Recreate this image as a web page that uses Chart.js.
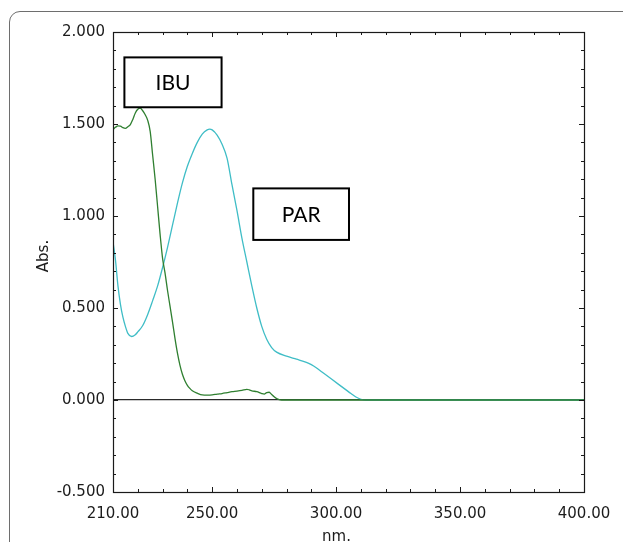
<!DOCTYPE html>
<html>
<head>
<meta charset="utf-8">
<script src="https://cdn.jsdelivr.net/npm/chart.js@4.4.1/dist/chart.umd.min.js"></script>
<style>
  html, body { margin: 0; padding: 0; background: #fff; overflow: hidden; width: 623px; height: 542px; }
  #wrap { position: relative; width: 623px; height: 542px; }
  #frame { position: absolute; left: 9px; top: 11px; width: 720px; height: 720px;
           border: 1.5px solid #6e6e6e; border-radius: 11px; box-sizing: border-box; }
  canvas { position: absolute; left: 0; top: 0; }
</style>
</head>
<body>
<div id="wrap">
  <div id="frame"></div>
  <canvas id="c" width="623" height="542"></canvas>
</div>
<script>
// Ibuprofen (IBU) absorption spectrum
const ibuNm = [210, 211, 212, 213, 214, 215, 216, 217, 218, 219, 220, 221, 222, 223, 224, 225,
               226, 227, 228, 229, 230, 231, 232, 233, 234, 235, 236, 237, 238, 239, 240, 241,
               242, 244, 246, 248, 250, 252, 254, 256, 258, 260, 262, 264, 265, 266, 268, 270,
               271, 272, 273, 274, 275, 276, 277, 278, 300, 350, 400];
const ibuAbs = [1.470, 1.482, 1.490, 1.489, 1.480, 1.476, 1.485, 1.497, 1.525, 1.560, 1.580, 1.586, 1.572, 1.550, 1.520, 1.460,
                1.330, 1.200, 1.050, 0.900, 0.770, 0.690, 0.595, 0.510, 0.425, 0.335, 0.255, 0.190, 0.140, 0.105, 0.080, 0.063,
                0.050, 0.037, 0.028, 0.027, 0.028, 0.032, 0.035, 0.040, 0.045, 0.048, 0.052, 0.058, 0.055, 0.050, 0.045, 0.035,
                0.032, 0.040, 0.042, 0.030, 0.018, 0.008, 0.002, 0.000, 0.000, 0.000, 0.000];

// Paracetamol (PAR) absorption spectrum
const parNm = [210, 211, 212, 213, 214, 215, 216, 217.5, 219, 220, 222, 224, 226, 228, 230, 232,
               234, 236, 238, 240, 242, 244, 246, 248, 249, 250, 252, 254, 256, 258, 260, 262,
               264, 266, 268, 270, 272, 274, 276, 280, 284, 288, 290, 292, 295, 298, 301, 304,
               306, 308, 310, 312, 350, 400];
const parAbs = [0.860, 0.760, 0.620, 0.520, 0.450, 0.400, 0.362, 0.345, 0.355, 0.370, 0.405, 0.465, 0.540, 0.620, 0.720, 0.830,
                0.950, 1.070, 1.180, 1.270, 1.340, 1.400, 1.445, 1.468, 1.472, 1.468, 1.440, 1.390, 1.315, 1.170, 1.030, 0.880,
                0.750, 0.620, 0.500, 0.400, 0.330, 0.285, 0.260, 0.238, 0.222, 0.205, 0.192, 0.175, 0.145, 0.115, 0.085, 0.055,
                0.035, 0.016, 0.004, 0.000, 0.000, 0.000];

// Labelled wavelengths and absorbances on the axes
const xLabels = [210, 250, 300, 350, 400];
const yLabels = [-0.5, 0, 0.5, 1, 1.5, 2];

// Boxed series names (extent given in axis units)
const notes = [
  { text: 'IBU', x0: 214.6, x1: 253.8, y0: 1.862, y1: 1.591 },
  { text: 'PAR', x0: 266.6, x1: 305.2, y0: 1.150, y1: 0.870 }
];

const tickFont = { family: 'DejaVu Sans', size: 15 };
const inkColor = '#1c1c1c';

const toPoints = (xs, ys) => xs.map((x, i) => ({ x, y: ys[i] }));

// Frame, inward tick marks, name boxes and axis titles
const decorations = {
  id: 'decorations',
  afterDatasetsDraw(chart) {
    const { ctx, chartArea: a, scales } = chart;
    const xs = scales.x, ys = scales.y;
    ctx.save();
    ctx.strokeStyle = '#1a1a1a';
    ctx.lineWidth = 1;
    ctx.beginPath();
    xs.ticks.forEach(t => {
      const px = Math.round(xs.getPixelForValue(t.value)) + 0.5;
      const len = (t.value % 50 === 0) ? 5 : 3;
      ctx.moveTo(px, a.bottom); ctx.lineTo(px, a.bottom - len);
      ctx.moveTo(px, a.top); ctx.lineTo(px, a.top + len);
    });
    ys.ticks.forEach(t => {
      const py = Math.round(ys.getPixelForValue(t.value)) + 0.5;
      const major = Math.abs(t.value * 2 - Math.round(t.value * 2)) < 1e-9;
      const len = major ? 5 : 3;
      ctx.moveTo(a.left, py); ctx.lineTo(a.left + len, py);
      ctx.moveTo(a.right, py); ctx.lineTo(a.right - len, py);
    });
    ctx.stroke();
    ctx.lineWidth = 1.2;
    ctx.strokeRect(a.left + 0.5, a.top + 0.5, a.right - a.left, a.bottom - a.top);

    // name boxes
    notes.forEach(n => {
      const l = xs.getPixelForValue(n.x0), r = xs.getPixelForValue(n.x1);
      const t = ys.getPixelForValue(n.y0), b = ys.getPixelForValue(n.y1);
      ctx.fillStyle = '#fff';
      ctx.fillRect(l, t, r - l, b - t);
      ctx.lineWidth = 2;
      ctx.strokeStyle = '#000';
      ctx.strokeRect(l, t, r - l, b - t);
      ctx.fillStyle = '#000';
      ctx.font = '21px Lato';
      ctx.textAlign = 'center';
      ctx.textBaseline = 'middle';
      ctx.fillText(n.text, (l + r) / 2, (t + b) / 2 + 1);
    });

    // axis titles
    ctx.fillStyle = inkColor;
    ctx.font = '15px "DejaVu Sans"';
    ctx.textAlign = 'center';
    ctx.textBaseline = 'alphabetic';
    ctx.fillText('nm.', (a.left + a.right) / 2 - 12, a.bottom + 49);
    ctx.translate(a.left - 69, (a.top + a.bottom) / 2 - 6);
    ctx.rotate(-Math.PI / 2);
    ctx.textBaseline = 'middle';
    ctx.fillText('Abs.', 0, 0);
    ctx.restore();
  }
};

new Chart(document.getElementById('c'), {
  type: 'line',
  data: {
    datasets: [
      {
        label: 'IBU',
        data: toPoints(ibuNm, ibuAbs),
        borderColor: '#2f7f30',
        borderWidth: 1.3,
        pointRadius: 0,
        cubicInterpolationMode: 'monotone',
        fill: false
      },
      {
        label: 'PAR',
        data: toPoints(parNm, parAbs),
        borderColor: '#3fbdc6',
        borderWidth: 1.3,
        pointRadius: 0,
        cubicInterpolationMode: 'monotone',
        fill: false
      }
    ]
  },
  options: {
    responsive: false,
    animation: false,
    devicePixelRatio: 1,
    layout: { padding: { left: 0, top: 32, right: 39, bottom: 0 } },
    plugins: { legend: { display: false }, tooltip: { enabled: false } },
    scales: {
      x: {
        type: 'linear',
        min: 210, max: 400,
        grid: { display: false },
        border: { display: false },
        ticks: {
          stepSize: 10,
          autoSkip: false,
          maxRotation: 0,
          padding: 5,
          color: inkColor,
          font: tickFont,
          callback: v => xLabels.includes(v) ? v.toFixed(2) : ''
        },
        afterFit: s => { s.height = 50; }
      },
      y: {
        type: 'linear',
        min: -0.5, max: 2,
        grid: {
          drawTicks: false,
          color: c => (c.tick && c.tick.value === 0) ? '#2a2a2a' : 'rgba(0,0,0,0)',
          lineWidth: 1.2
        },
        border: { display: false },
        ticks: {
          stepSize: 0.1,
          autoSkip: false,
          padding: 8,
          color: inkColor,
          font: tickFont,
          callback: v => yLabels.some(l => Math.abs(l - v) < 1e-9) ? v.toFixed(3) : ''
        },
        afterFit: s => { s.width = 113; }
      }
    }
  },
  plugins: [decorations]
});
</script>
</body>
</html>
